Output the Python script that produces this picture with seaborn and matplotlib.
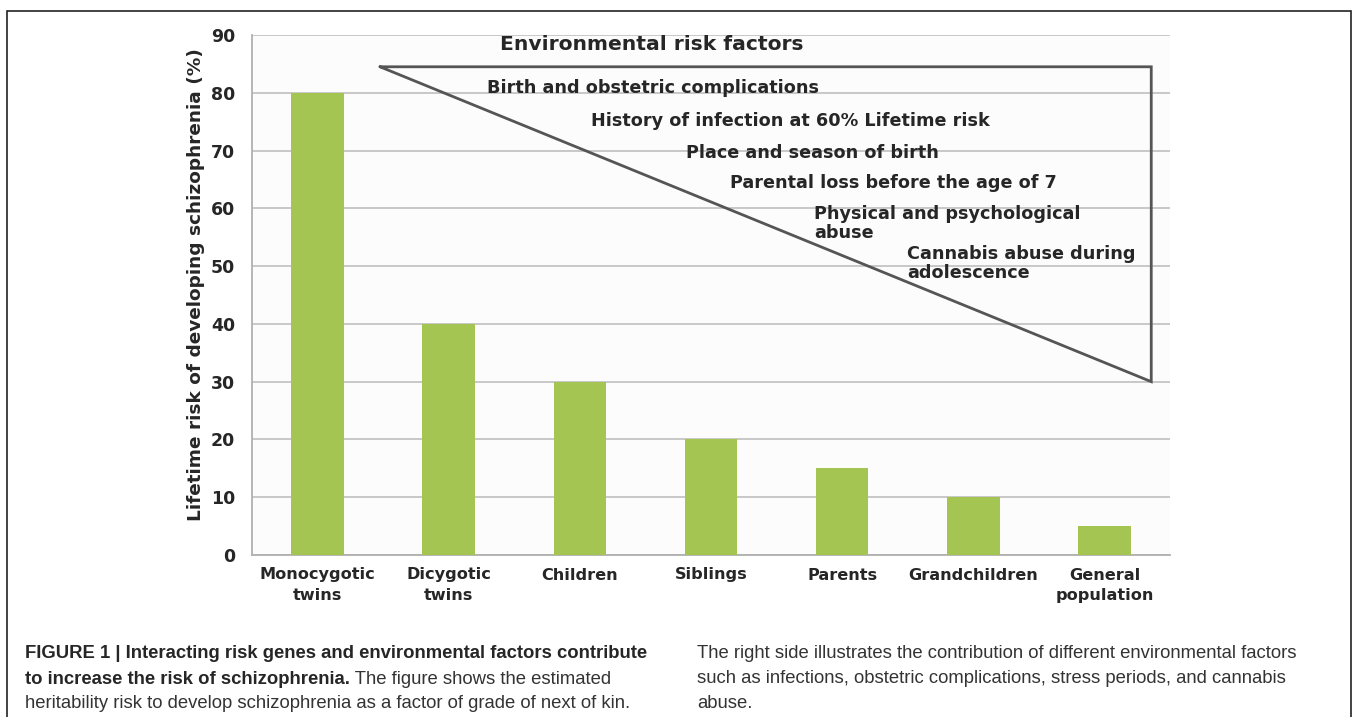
import matplotlib
matplotlib.use("Agg")
import matplotlib.pyplot as plt
import seaborn as sns
import pandas as pd
from matplotlib.patches import Rectangle

# data
relatives = ["Monocygotic\ntwins", "Dicygotic\ntwins", "Children", "Siblings",
             "Parents", "Grandchildren", "General\npopulation"]
lifetime_risk = [80, 40, 30, 20, 15, 10, 5]

env_title = "Environmental risk factors"
env_factors = [
    "Birth and obstetric complications",
    "History of infection at 60% Lifetime risk",
    "Place and season of birth",
    "Parental loss before the age of 7",
    "Physical and psychological\nabuse",
    "Cannabis abuse during\nadolescence",
]
# triangle vertices (category units, % risk)
tri_x = [0.476, 6.357, 6.357, 0.476]
tri_y = [84.5, 84.5, 30, 84.5]

# where each factor label sits (left edge, vertical centre)
factor_x = [1.292, 2.085, 2.810, 3.146, 3.786, 4.496]
factor_y = [80.8, 75.1, 69.6, 64.4, 57.4, 50.5]

caption_left_bold1 = "FIGURE 1 | Interacting risk genes and environmental factors contribute"
caption_left_bold2 = "to increase the risk of schizophrenia."
caption_left_rest2 = " The figure shows the estimated"
caption_left_3 = "heritability risk to develop schizophrenia as a factor of grade of next of kin."
caption_right = ["The right side illustrates the contribution of different environmental factors",
                 "such as infections, obstetric complications, stress periods, and cannabis",
                 "abuse."]

df = pd.DataFrame({"relative": relatives, "risk": lifetime_risk})

sns.set_style("white")
plt.rcParams["font.family"] = ["DejaVu Sans"]

W, H = 1357, 717
fig = plt.figure(figsize=(W / 100, H / 100), dpi=100)
fig.patch.set_facecolor("white")
ax = fig.add_axes([252 / W, 1 - 555 / H, 918 / W, 520 / H])
ax.set_facecolor("#fcfcfc")

sns.barplot(data=df, x="relative", y="risk", color="#a5c552", saturation=1,
            width=0.4, ax=ax, zorder=3, linewidth=0, edgecolor="none")

ax.set_ylim(0, 90)
ax.set_xlim(-0.5, len(relatives) - 0.5)
ax.set_yticks(range(0, 91, 10))
ax.yaxis.grid(True, color="#c4c4c4", linewidth=1.3, zorder=0)
ax.set_axisbelow(True)
for s in ["top", "right"]:
    ax.spines[s].set_visible(False)
for s in ["left", "bottom"]:
    ax.spines[s].set_color("#b0b0b0")
    ax.spines[s].set_linewidth(1.3)

ax.tick_params(axis="y", length=4, width=1.2, color="#b0b0b0", pad=8,
               labelsize=12.5)
ax.tick_params(axis="x", which="major", length=0, pad=9, labelsize=11.6)
ax.set_xticks([i - 0.5 for i in range(len(relatives) + 1)], minor=True)
ax.tick_params(axis="x", which="minor", length=6, width=1.2, color="#b0b0b0")
for lab in ax.get_yticklabels():
    lab.set_fontweight("bold")
for lab in ax.get_xticklabels():
    lab.set_fontweight("bold")
    lab.set_linespacing(1.45)
ax.set_xlabel("")
ax.set_ylabel("Lifetime risk of developing schizophrenia (%)", fontsize=13.3,
              fontweight="bold")
ax.yaxis.set_label_coords(-0.051, 0.521)

# environmental factor triangle
ax.plot(tri_x, tri_y, color="#555555", linewidth=2.0, zorder=4,
        solid_joinstyle="miter", clip_on=False)
ax.text(1.391, 88.3, env_title, fontsize=14.6, fontweight="bold",
        ha="left", va="center", zorder=5)
for label, fx, fy in zip(env_factors, factor_x, factor_y):
    ax.text(fx, fy, label, fontsize=12.7, fontweight="bold", ha="left",
            va="center", linespacing=1.1, zorder=5)

# outer frame
fig.patches.append(Rectangle((7 / W, -0.05), (1351 - 7) / W, 1.05 - 11 / H,
                             transform=fig.transFigure, fill=False,
                             edgecolor="#222222", linewidth=1.2))

# caption
cap_font = ["Liberation Sans", "DejaVu Sans"]
cs = 13.3
fig.text(25 / W, 1 - 653 / H, caption_left_bold1, fontsize=cs, fontweight="bold",
         family=cap_font, va="center", ha="left")
t2 = fig.text(25 / W, 1 - 679 / H, caption_left_bold2, fontsize=cs,
              fontweight="bold", family=cap_font, va="center", ha="left")
fig.canvas.draw()
bb = t2.get_window_extent(renderer=fig.canvas.get_renderer())
fig.text(bb.x1 / W, 1 - 679 / H, caption_left_rest2, fontsize=cs,
         family=cap_font, va="center", ha="left", color="#333333")
fig.text(25 / W, 1 - 704 / H, caption_left_3, fontsize=cs, family=cap_font,
         va="center", ha="left", color="#333333")
for i, line in enumerate(caption_right):
    fig.text(697 / W, 1 - (653 + 25.5 * i) / H, line, fontsize=cs,
             family=cap_font, va="center", ha="left", color="#333333")

fig.savefig("out.png", dpi=100)
